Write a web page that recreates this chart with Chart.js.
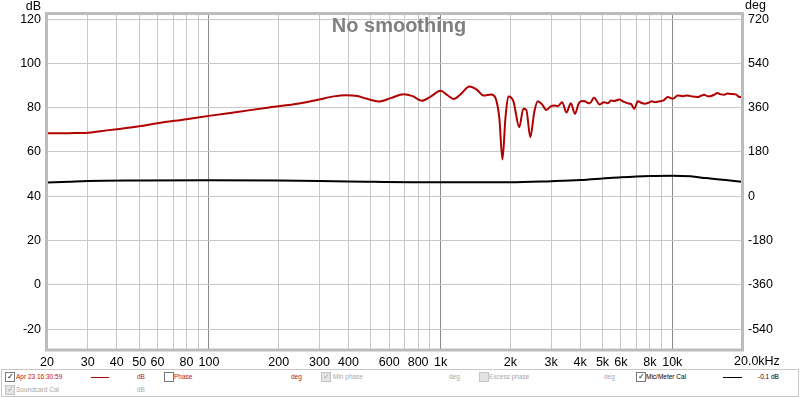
<!DOCTYPE html>
<html>
<head>
<meta charset="utf-8">
<script src="https://cdn.jsdelivr.net/npm/chart.js@4"></script>
<style>
  html, body { margin: 0; padding: 0; background: #fff; }
  #wrap { position: relative; width: 800px; height: 397px; overflow: hidden; font-family: "Liberation Sans", Arial, sans-serif; }
  #grafico { position: absolute; left: 0; top: 0; }
  .leg { position: absolute; left: 1px; top: 369px; width: 796px; height: 26px; border: 1px solid #c8c8c8; background: #fff; }
  .it { position: absolute; font-size: 6.5px; white-space: nowrap; line-height: 8px; }
  .cb { position: absolute; width: 8px; height: 8px; border: 1px solid #7a7a7a; background: #fff; font-size: 8px; line-height: 8px; text-align: center; color: #000; }
  .cb.off { border-color: #c4c4c4; background: #e4e4e4; color: #a8a8a8; }
  .ln { position: absolute; height: 0; border-top: 1.5px solid; }
  .red { color: #c01010; }
  .gray { color: #a8a8a8; }
</style>
</head>
<body>
<div id="wrap">
  <canvas id="grafico" width="800" height="397"></canvas>
  <div class="leg">
    <span class="cb" style="left:3px;top:2px">&#10003;</span>
    <span class="it red" style="left:14px;top:3px">Apr 23 16:30:59</span>
    <span class="ln" style="left:89px;top:7px;width:18px;border-color:#b10000"></span>
    <span class="it red" style="left:135px;top:3px">dB</span>
    <span class="cb" style="left:162px;top:2px"></span>
    <span class="it red" style="left:172px;top:3px">Phase</span>
    <span class="it red" style="left:289px;top:3px">deg</span>
    <span class="cb off" style="left:319px;top:2px">&#10003;</span>
    <span class="it gray" style="left:331px;top:3px">Min phase</span>
    <span class="it gray" style="left:447px;top:3px">deg</span>
    <span class="cb off" style="left:477px;top:2px"></span>
    <span class="it gray" style="left:487px;top:3px">Excess phase</span>
    <span class="it gray" style="left:602px;top:3px">deg</span>
    <span class="cb" style="left:634px;top:2px">&#10003;</span>
    <span class="it" style="left:644px;top:3px">Mic/Meter Cal</span>
    <span class="ln" style="left:721px;top:7px;width:19px;border-color:#000"></span>
    <span class="it" style="left:756px;top:3px">-0.1 dB</span>
    <span class="cb off" style="left:3px;top:15px">&#10003;</span>
    <span class="it gray" style="left:14px;top:16px">Soundcard Cal</span>
    <span class="it gray" style="left:135px;top:16px">dB</span>
  </div>
</div>
<script>
const respHz = [
  20, 25, 30, 34, 40, 50, 60, 80, 100, 135,
  182, 245, 296, 347, 390, 436, 481, 541, 609, 693,
  758, 831, 906, 1000, 1072, 1137, 1219, 1332, 1428, 1531,
  1657, 1724, 1794, 1849, 1904, 1960, 2061, 2186, 2276, 2344,
  2439, 2537, 2625, 2740, 2863, 2980, 3092, 3216, 3346, 3492,
  3650, 3800, 3951, 4070, 4193, 4300, 4405, 4597, 4863, 5074,
  5275, 5440, 5602, 5910, 6185, 6420, 6650, 6851, 7106, 7350,
  7594, 7925, 8150, 8382, 8748, 9177, 9563, 10050, 10560, 11100,
  11660, 12250, 12870, 13300, 13760, 14200, 14690, 15200, 15700, 16200,
  16770, 17300, 17900, 18810, 19510, 20000
]
const respDb = [
  68.4, 68.5, 68.7, 69.4, 70.3, 71.6, 73.0, 74.8, 76.3, 78.2,
  80.1, 81.9, 83.6, 85.1, 85.6, 85.3, 84.0, 82.8, 84.3, 86.1,
  85.2, 83.1, 85.0, 87.6, 85.6, 83.9, 86.0, 89.6, 88.3, 85.5,
  86.0, 84.5, 75.0, 56.6, 75.0, 85.1, 83.0, 71.2, 79.5, 79.0,
  66.7, 78.0, 82.9, 81.5, 79.0, 80.5, 81.0, 80.8, 82.5, 77.8,
  82.0, 77.2, 82.0, 83.0, 82.9, 82.2, 82.0, 84.5, 81.4, 82.5,
  82.0, 83.2, 83.0, 83.7, 82.6, 82.0, 81.6, 79.5, 82.9, 82.2,
  81.8, 82.3, 82.9, 82.5, 82.8, 83.3, 84.8, 84.0, 85.5, 85.2,
  85.5, 85.0, 84.8, 85.4, 85.8, 85.2, 85.3, 85.9, 86.6, 86.0,
  85.8, 86.4, 86.2, 86.0, 84.8, 85.0
]

// mic/meter calibration curve
const calHz = [20, 25, 30, 50, 100, 200, 400, 1000, 2000, 3000, 4000, 5000, 6000, 8000, 10000, 12000, 14000, 17000, 20000]
const calDb = [46.2, 46.6, 46.9, 47.1, 47.2, 47.1, 46.7, 46.3, 46.3, 46.8, 47.3, 48.0, 48.6, 49.2, 49.3, 49.0, 48.2, 47.3, 46.5]

const gridHz = [
  20, 30, 40, 50, 60, 70, 80, 90, 100,
  200, 300, 400, 500, 600, 700, 800, 900, 1000,
  2000, 3000, 4000, 5000, 6000, 7000, 8000, 9000, 10000, 20000
]
const freqLabels = {
  20: '20', 30: '30', 40: '40', 50: '50', 60: '60', 80: '80', 100: '100',
  200: '200', 300: '300', 400: '400', 600: '600', 800: '800', 1000: '1k',
  2000: '2k', 3000: '3k', 4000: '4k', 5000: '5k', 6000: '6k', 8000: '8k',
  10000: '10k'
}
const lastFreqLabel = '20.0kHz'
const dbTicks = [-20, 0, 20, 40, 60, 80, 100, 120]
const degTicks = [-540, -360, -180, 0, 180, 360, 540, 720]

const dbMin = -29.2
const dbMax = 122.3
const toDeg = v => (v - 40) * 9

const tickFont = { family: '"Liberation Sans", Arial, sans-serif', size: 12.5 }

const decorations = {
    id: 'decorations',
    afterDraw(chart) {
        const c = chart.ctx
        const a = chart.chartArea
        c.save()
        c.strokeStyle = '#bcbcbc'
        c.lineWidth = 3
        c.strokeRect(a.left - 0.5, a.top - 0.5, a.right - a.left + 1, a.bottom - a.top + 1)

        c.fillStyle = '#808080'
        c.font = 'bold 20px "Liberation Sans", Arial, sans-serif'
        c.textAlign = 'center'
        c.textBaseline = 'alphabetic'
        c.fillText('No smoothing', 399, 32)

        c.fillStyle = '#000'
        c.font = '12.5px "Liberation Sans", Arial, sans-serif'
        c.textAlign = 'right'
        c.fillText('dB', 41, 10)
        c.textAlign = 'left'
        c.fillText('deg', 745, 9)

        // end label of the frequency axis sits to the right of its tick
        c.textBaseline = 'top'
        c.fillText(lastFreqLabel, chart.scales.x.getPixelForValue(20000) - 8, a.bottom + 6)
        c.restore()
    }
}

const ctx = document.getElementById('grafico')

new Chart(ctx, {
    type: 'line',
    data: {
        datasets: [
            {
                label: 'Apr 23 16:30:59',
                data: respHz.map((f, i) => ({ x: f, y: respDb[i] })),
                borderColor: '#b10000',
                borderWidth: 2,
                pointRadius: 0,
                cubicInterpolationMode: 'monotone',
                yAxisID: 'y'
            },
            {
                label: 'Mic/Meter Cal',
                data: calHz.map((f, i) => ({ x: f, y: calDb[i] })),
                borderColor: '#000000',
                borderWidth: 2,
                pointRadius: 0,
                cubicInterpolationMode: 'monotone',
                yAxisID: 'y'
            }
        ]
    },
    options: {
        responsive: false,
        animation: false,
        devicePixelRatio: 1,
        layout: { padding: { top: 14, left: 0, right: 0, bottom: 0 } },
        plugins: {
            legend: { display: false },
            tooltip: { enabled: false }
        },
        scales: {
            x: {
                type: 'logarithmic',
                min: 20,
                max: 20000,
                afterBuildTicks: s => { s.ticks = gridHz.map(v => ({ value: v })) },
                afterFit: s => { s.height = 47.5 },
                border: { display: false },
                grid: {
                    drawTicks: false,
                    lineWidth: 1,
                    color: c => [100, 1000, 10000].includes(c.tick && c.tick.value) ? '#8a8a8a' : '#c8c8c8'
                },
                ticks: {
                    autoSkip: false,
                    maxRotation: 0,
                    padding: 6,
                    color: '#000',
                    font: tickFont,
                    callback: v => freqLabels[v] || ''
                }
            },
            y: {
                position: 'left',
                min: dbMin,
                max: dbMax,
                afterBuildTicks: s => { s.ticks = dbTicks.map(v => ({ value: v })) },
                afterFit: s => { s.width = 47 },
                border: { display: false },
                grid: { drawTicks: false, color: '#c8c8c8', lineWidth: 1 },
                ticks: { padding: 6, color: '#000', font: tickFont }
            },
            y2: {
                position: 'right',
                min: toDeg(dbMin),
                max: toDeg(dbMax),
                afterBuildTicks: s => { s.ticks = degTicks.map(v => ({ value: v })) },
                afterFit: s => { s.width = 58 },
                border: { display: false },
                grid: { display: false, drawTicks: false },
                ticks: { padding: 6, color: '#000', font: tickFont }
            }
        }
    },
    plugins: [decorations]
})
</script>
</body>
</html>
